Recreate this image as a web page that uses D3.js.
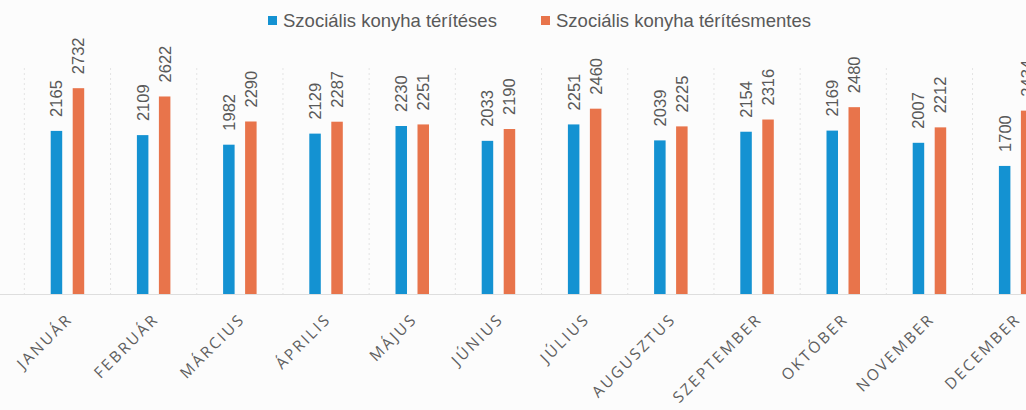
<!DOCTYPE html>
<html>
<head>
<meta charset="utf-8">
<script src="https://cdn.jsdelivr.net/npm/d3@7"></script>
<style>
  body { margin: 0; background: #fcfcfc; }
  svg { display: block; }
</style>
</head>
<body>
<svg id="chart" width="1026" height="410"></svg>
<script>
// data
var months = ["JANUÁR", "FEBRUÁR", "MÁRCIUS", "ÁPRILIS", "MÁJUS", "JÚNIUS",
  "JÚLIUS", "AUGUSZTUS", "SZEPTEMBER", "OKTÓBER", "NOVEMBER", "DECEMBER"];
var seriesNames = ["Szociális konyha térítéses", "Szociális konyha térítésmentes"];
var teriteses = [2165, 2109, 1982, 2129, 2230, 2033, 2251, 2039, 2154, 2169, 2007, 1700];
var teritesmentes = [2732, 2622, 2290, 2287, 2251, 2190, 2460, 2225, 2316, 2480, 2212, 2434];
var colors = ["#1492d2", "#e8744b"];

var svg = d3.select("#chart"),
    width = +svg.attr("width"),
    height = +svg.attr("height");

var step = 86.2,
    plotLeft = 24.35,
    base = 294,
    plotTop = 68;

var x0 = d3.scaleBand()
    .domain(months)
    .range([plotLeft, plotLeft + step * months.length])
    .padding(0);

var x1 = d3.scaleBand()
    .domain([0, 1])
    .range([0, 33.5])
    .paddingInner(0.477);

var y = d3.scaleLinear()
    .domain([0, 3000])
    .range([base, plotTop]);

var rows = months.map(function(m, i) {
  return { month: m, values: [teriteses[i], teritesmentes[i]] };
});

// faint dotted separators between categories
svg.append("g")
    .selectAll("line")
    .data(d3.range(months.length + 1))
    .enter()
    .append("line")
    .attr("x1", d => plotLeft + d * step)
    .attr("x2", d => plotLeft + d * step)
    .attr("y1", plotTop)
    .attr("y2", base)
    .attr("stroke", "#e4e4e4")
    .attr("stroke-dasharray", "2,3");

// baseline
svg.append("line")
    .attr("x1", 0)
    .attr("x2", width)
    .attr("y1", base + 0.5)
    .attr("y2", base + 0.5)
    .attr("stroke", "#dedede");

var groups = svg.append("g")
    .selectAll("g")
    .data(rows)
    .enter()
    .append("g")
    .attr("transform", d => "translate(" + (x0(d.month) + (x0.bandwidth() - 33.5) / 2) + ",0)");

groups.selectAll("rect")
    .data(d => d.values)
    .enter()
    .append("rect")
    .attr("x", (d, i) => x1(i))
    .attr("y", d => y(d))
    .attr("width", x1.bandwidth())
    .attr("height", d => base - y(d))
    .attr("fill", (d, i) => colors[i]);

// value labels, rotated, above each bar
groups.selectAll("text")
    .data(d => d.values)
    .enter()
    .append("text")
    .attr("transform", (d, i) => "translate(" + (x1(i) + x1.bandwidth() / 2 + 6) + "," + (y(d) - 14) + ") rotate(-90)")
    .attr("font-family", "Liberation Sans, sans-serif")
    .attr("font-size", 16.5)
    .attr("fill", "#595959")
    .text(d => d);

// month labels at 45 degrees
svg.append("g")
    .selectAll("text")
    .data(months)
    .enter()
    .append("text")
    .attr("transform", d => "translate(" + (x0(d) + x0.bandwidth() / 2 + 6) + ",320) rotate(-45)")
    .attr("text-anchor", "end")
    .attr("font-family", "Open Sans, sans-serif")
    .attr("font-size", 15.5)
    .attr("letter-spacing", 2.4)
    .attr("fill", "#5f5f5f")
    .text(d => d);

// legend
var legendX = [268, 541];
var legend = svg.append("g")
    .selectAll("g")
    .data(seriesNames)
    .enter()
    .append("g")
    .attr("transform", (d, i) => "translate(" + legendX[i] + ",16)");

legend.append("rect")
    .attr("width", 9)
    .attr("height", 9)
    .attr("fill", (d, i) => colors[i]);

legend.append("text")
    .attr("x", 15)
    .attr("y", 10.5)
    .attr("font-family", "Liberation Sans, sans-serif")
    .attr("font-size", 18.5)
    .attr("fill", "#595959")
    .text(d => d);
</script>
</body>
</html>
